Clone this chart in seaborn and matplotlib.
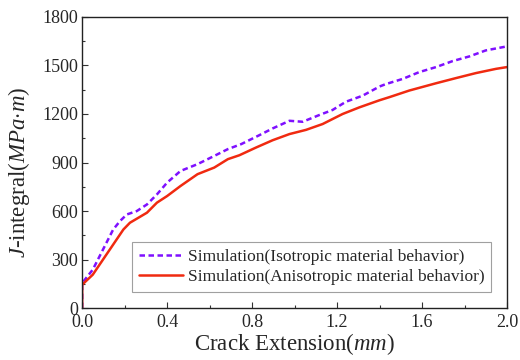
import numpy as np
import pandas as pd
import matplotlib
matplotlib.use("Agg")
import matplotlib.pyplot as plt
import seaborn as sns
from matplotlib.ticker import MultipleLocator

iso_x = [0.0, 0.0, 0.05, 0.098, 0.146, 0.178, 0.21, 0.257, 0.305, 0.352, 0.40, 0.463, 0.543,
         0.622, 0.686, 0.749, 0.834, 0.897, 0.976, 1.038, 1.117, 1.179, 1.242, 1.32, 1.40,
         1.43, 1.509, 1.587, 1.666, 1.744, 1.823, 1.90, 2.0]
iso_y = [0, 155, 238, 362, 486, 538, 579, 600, 641, 703, 776, 848, 890,
         941, 983, 1014, 1069, 1111, 1158, 1152, 1194, 1225, 1276, 1313, 1370,
         1385, 1417, 1459, 1490, 1527, 1556, 1593, 1618]

aniso_x = [0.0, 0.0, 0.05, 0.098, 0.146, 0.194, 0.225, 0.305, 0.352, 0.40, 0.463, 0.543,
           0.622, 0.686, 0.74, 0.819, 0.897, 0.976, 1.054, 1.132, 1.226, 1.305, 1.40,
           1.446, 1.54, 1.666, 1.76, 1.854, 1.948, 2.0]
aniso_y = [0, 145, 207, 300, 393, 486, 528, 590, 652, 693, 755, 828,
           869, 921, 945, 993, 1038, 1076, 1102, 1138, 1200, 1241, 1285,
           1304, 1345, 1390, 1422, 1453, 1479, 1490]

labels = ["Simulation(Isotropic material behavior)",
          "Simulation(Anisotropic material behavior)"]

df = pd.concat([
    pd.DataFrame({"x": iso_x, "y": iso_y, "s": labels[0]}),
    pd.DataFrame({"x": aniso_x, "y": aniso_y, "s": labels[1]}),
], ignore_index=True)

sns.set_style("ticks")
plt.rcParams["font.family"] = ["Liberation Serif", "DejaVu Serif"]
plt.rcParams["mathtext.fontset"] = "custom"
plt.rcParams["mathtext.rm"] = "Liberation Serif"
plt.rcParams["mathtext.it"] = "Liberation Serif:italic"
plt.rcParams["mathtext.cal"] = "Liberation Serif:italic"

fig = plt.figure(figsize=(5.2, 3.6), dpi=100)
ax = fig.add_axes([0.158, 0.144, 0.817, 0.809])

colors = {labels[0]: "#7f10ff", labels[1]: "#f02a10"}
sns.lineplot(data=df, x="x", y="y", hue="s", style="s", estimator=None,
             sort=False, palette=colors,
             dashes={labels[0]: (2.2, 1.4), labels[1]: ""},
             linewidth=1.8, ax=ax, legend=False)

ax.plot([], [], color=colors[labels[0]], ls=(0, (2.2, 1.4)), lw=1.8, label=labels[0])
ax.plot([], [], color=colors[labels[1]], ls="-", lw=1.8, label=labels[1])

ax.set_xlim(0, 2.0)
ax.set_ylim(0, 1800)
ax.xaxis.set_major_locator(MultipleLocator(0.4))
ax.xaxis.set_minor_locator(MultipleLocator(0.2))
ax.yaxis.set_major_locator(MultipleLocator(300))
ax.yaxis.set_minor_locator(MultipleLocator(150))
ax.set_xticks(ax.get_xticks())
ax.set_xticklabels([f"{v:.1f}" for v in ax.get_xticks()])
ax.set_xlim(0, 2.0)
ax.tick_params(axis="both", which="both", direction="in", top=False, right=False,
               labelsize=13, color="#333333")
ax.tick_params(which="major", length=4, width=0.8)
ax.tick_params(which="minor", length=2.5, width=0.8)
ax.tick_params(axis="x", pad=4.5)
ax.tick_params(axis="y", pad=3)
for sp in ax.spines.values():
    sp.set_visible(True)
    sp.set_color("#222222")
    sp.set_linewidth(1.0)

ax.set_xlabel(r"Crack Extension($mm$)", fontsize=16.5, labelpad=0)
ax.set_ylabel(r"$J$-integral($MPa{\cdot}m$)", fontsize=16.5)
ax.yaxis.set_label_coords(-0.117, 0.465)

leg = ax.legend(loc="lower right", bbox_to_anchor=(0.963, 0.055), fontsize=12.5,
                frameon=True, fancybox=False, edgecolor="#888888",
                handlelength=2.5, borderpad=0.4, labelspacing=0.25, handletextpad=0.3,
                borderaxespad=0)
leg.get_frame().set_linewidth(0.8)

fig.savefig("out.png", dpi=100)
